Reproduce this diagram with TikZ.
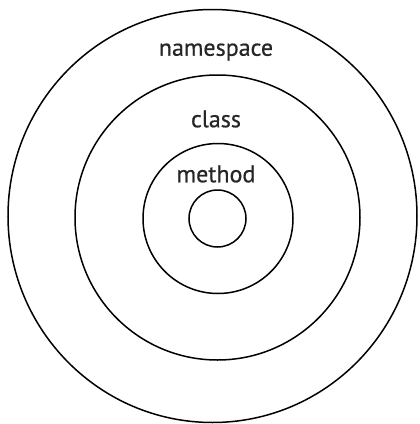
\documentclass[tikz,border=0pt]{standalone}
\usepackage{fontspec}
\newfontfamily\labfont{PT Sans}[FakeBold=0.6]
\begin{document}
\begin{tikzpicture}[x=1pt,y=-1pt,
  ring/.style={draw=black,line width=1.5pt},
  lab/.style={font=\labfont\fontsize{24}{28}\selectfont,text=black!85,inner sep=0pt}]
\useasboundingbox (0,0) rectangle (420,424);
\draw[ring] (212.5,216) ellipse [x radius=204.5, y radius=206.5];
\draw[ring] (217.5,217.5) circle [radius=142.5];
\draw[ring] (218,218.5) circle [radius=75];
\draw[ring] (217.5,218.5) circle [radius=28.5];
\node[lab] (ns) at (216,52) {namespace};
\node[lab] (cl) at (216,119) {class};
\node[lab] (me) at (216,174) {method};
\end{tikzpicture}
\end{document}
